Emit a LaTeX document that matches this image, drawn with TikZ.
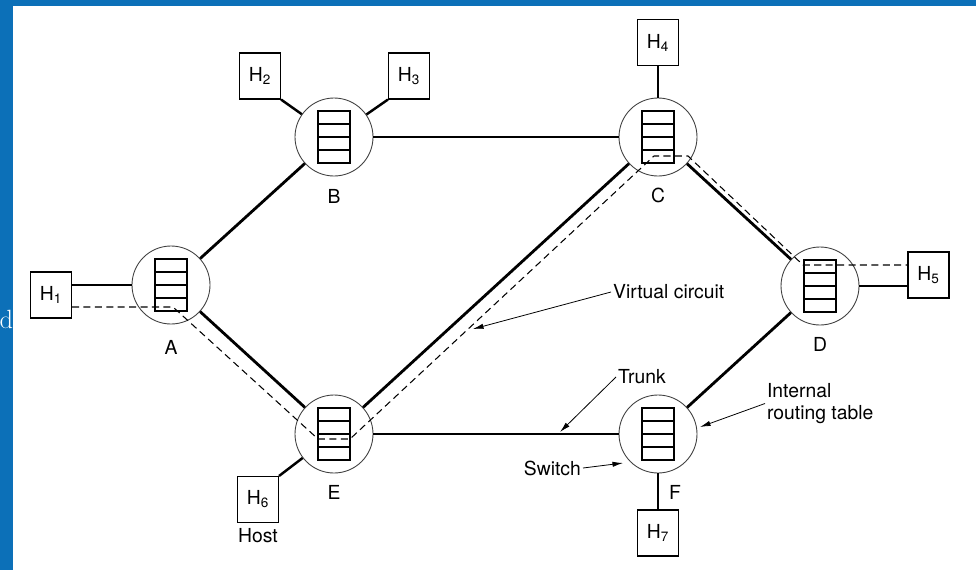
\documentclass[tikz,border=0pt]{standalone}
\usepackage{fontspec}
\setsansfont{TeX Gyre Heros}
\usepackage{xcolor}
\usepackage{tikz}
\usetikzlibrary{positioning,arrows.meta}
\definecolor{frameblue}{RGB}{12,112,184}

\begin{document}
\begin{tikzpicture}[
    switch/.style={draw=black!75, circle, line width=0.5pt, minimum size=1.56cm, inner sep=0pt},
    host/.style={draw, rectangle, line width=0.6pt, minimum width=0.82cm, minimum height=0.92cm, inner sep=0pt},
    rtable/.style={line width=0.6pt},
    trunk/.style={line width=1.6pt},
    thintrunk/.style={line width=1pt},
    link/.style={line width=1.4pt},
    vcpath/.style={dash pattern=on 4pt off 2.5pt, line width=0.6pt},
    note/.style={inner sep=1pt},
    arrow/.style={-{Latex[length=6pt,width=3pt]}, line width=0.45pt},
    on grid,
    font=\sffamily\fontsize{11}{13}\selectfont
]

% page and slide frame
\useasboundingbox (0,0) rectangle (19.52,-11.4);
\fill[white] (0,0) rectangle (19.52,-11.4);
\fill[frameblue] (0,0) rectangle (0.26,-11.4);
\fill[frameblue] (0,0) rectangle (19.52,-0.12);
\node[anchor=base east, inner sep=0pt, text=white, font=\rmfamily\fontsize{15}{17}\selectfont] (cut) at (0.27,-6.56) {d};

% switches
\node[switch] (A) at (3.42,-5.70) {};
\node[switch, above right=2.96cm and 3.26cm of A] (B) {};
\node[switch, below right=2.98cm and 3.26cm of A] (E) {};
\node[switch, right=6.48cm of B] (C) {};
\node[switch, right=6.48cm of E] (F) {};
\node[switch, below right=2.98cm and 3.24cm of C] (D) {};

\node[below=1.24cm of A] (lA) {A};
\node[below=1.18cm of B] (lB) {B};
\node[below=1.16cm of C] (lC) {C};
\node[below=1.16cm of D] (lD) {D};
\node[below=1.16cm of E] (lE) {E};
\node[below right=1.16cm and 0.34cm of F] (lF) {F};

% routing tables
\foreach \s in {A,B,C,D,E,F} {
  \begin{scope}[shift={(\s)}]
    \draw[rtable] (-0.32,-0.52) rectangle (0.32,0.52);
    \foreach \r in {-0.26,0,0.26}
      \draw[rtable] (-0.32,\r) -- (0.32,\r);
  \end{scope}
}

% hosts
\node[host, below left=0.2cm and 2.4cm of A] (h1) {H\textsubscript{1}};
\node[host, above left=1.22cm and 1.48cm of B] (h2) {H\textsubscript{2}};
\node[host, above right=1.22cm and 1.5cm of B] (h3) {H\textsubscript{3}};
\node[host, above=1.89cm of C] (h4) {H\textsubscript{4}};
\node[host, above right=0.22cm and 2.17cm of D] (h5) {H\textsubscript{5}};
\node[host, below left=1.31cm and 1.52cm of E] (h6) {H\textsubscript{6}};
\node[host, below=1.98cm of F] (h7) {H\textsubscript{7}};
\node[below=0.73cm of h6] (host) {Host};

% trunks
\draw[trunk] (A) -- (B);
\draw[trunk] (A) -- (E);
\draw[thintrunk] (B) -- (C);
\draw[trunk] (E) -- (C);
\draw[trunk] (C) -- (D);
\draw[trunk] (D) -- (F);
\draw[thintrunk] (E) -- (F);

% host links
\draw[link] (A) -- (A -| h1.east);
\draw[link] (h2.south east) -- (B);
\draw[link] (h3.south west) -- (B);
\draw[link] (h4) -- (C);
\draw[link] (D) -- (D -| h5.west);
\draw[link] (h6.north east) -- (E);
\draw[link] (h7) -- (F);

% virtual circuit
\draw[vcpath] ([yshift=-0.24cm]h1.east) -- ([shift={(0.04,-0.44)}]A.center)
  -- ([shift={(-0.32,-0.1)}]E.center) -- ([shift={(0.32,-0.1)}]E.center)
  -- ([shift={(-0.08,-0.38)}]C.center) -- ([shift={(0.6,-0.38)}]C.center)
  -- ([shift={(-0.34,0.42)}]D.center) -- ([yshift=0.2cm]h5.west);

% annotations
\node[note, anchor=west] (vclabel) at (12.22,-5.84) {Virtual circuit};
\node[note, anchor=west] (trlabel) at (12.32,-7.54) {Trunk};
\node[note, anchor=east] (swlabel) at (11.66,-9.36) {Switch};
\node[note, anchor=west, align=left] (rtlabel) at (15.3,-8.07) {Internal\\routing table};

\coordinate (vc) at (9.46,-6.58);
\coordinate (tk) at (11.2,-8.64);
\coordinate (sw) at (12.46,-9.26);
\coordinate (rt) at (14.0,-8.54);

\draw[arrow] (vclabel.west) -- (vc);
\draw[arrow] (trlabel.west) -- (tk);
\draw[arrow] (swlabel.east) -- (sw);
\draw[arrow] (rtlabel.west) -- (rt);

\end{tikzpicture}
\end{document}
